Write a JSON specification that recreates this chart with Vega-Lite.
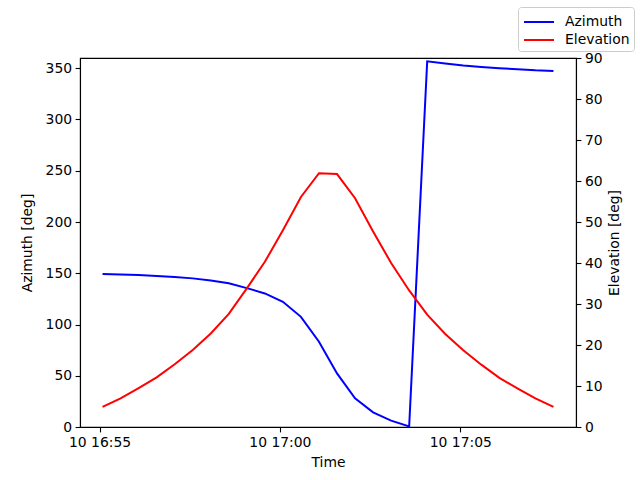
{
  "$schema": "https://vega.github.io/schema/vega-lite/v6.json",
  "autosize": "none",
  "width": 496,
  "height": 369,
  "padding": {"left": 80, "top": 58, "right": 64, "bottom": 53},
  "background": "white",
  "data": {
    "values": [
      {"time": "2024-01-10T16:55:05", "az": 149.2, "el": 4.9},
      {"time": "2024-01-10T16:55:35", "az": 148.8, "el": 7.0},
      {"time": "2024-01-10T16:56:05", "az": 148.2, "el": 9.5},
      {"time": "2024-01-10T16:56:35", "az": 147.4, "el": 12.1},
      {"time": "2024-01-10T16:57:05", "az": 146.4, "el": 15.3},
      {"time": "2024-01-10T16:57:35", "az": 145.0, "el": 18.8},
      {"time": "2024-01-10T16:58:05", "az": 143.0, "el": 22.8},
      {"time": "2024-01-10T16:58:35", "az": 140.2, "el": 27.6},
      {"time": "2024-01-10T16:59:05", "az": 135.5, "el": 33.8},
      {"time": "2024-01-10T16:59:35", "az": 130.3, "el": 40.3},
      {"time": "2024-01-10T17:00:05", "az": 122.2, "el": 48.0},
      {"time": "2024-01-10T17:00:35", "az": 107.5, "el": 56.1},
      {"time": "2024-01-10T17:01:05", "az": 83.2, "el": 61.9},
      {"time": "2024-01-10T17:01:35", "az": 52.3, "el": 61.7},
      {"time": "2024-01-10T17:02:05", "az": 28.0, "el": 55.8},
      {"time": "2024-01-10T17:02:35", "az": 14.3, "el": 47.7},
      {"time": "2024-01-10T17:03:05", "az": 6.2, "el": 40.0},
      {"time": "2024-01-10T17:03:35", "az": 0.6, "el": 33.3},
      {"time": "2024-01-10T17:04:05", "az": 356.8, "el": 27.4},
      {"time": "2024-01-10T17:04:35", "az": 354.6, "el": 22.7},
      {"time": "2024-01-10T17:05:05", "az": 352.6, "el": 18.7},
      {"time": "2024-01-10T17:05:35", "az": 351.3, "el": 15.2},
      {"time": "2024-01-10T17:06:05", "az": 350.0, "el": 12.0},
      {"time": "2024-01-10T17:06:35", "az": 349.0, "el": 9.4},
      {"time": "2024-01-10T17:07:05", "az": 348.0, "el": 7.0},
      {"time": "2024-01-10T17:07:35", "az": 347.4, "el": 4.9}
    ]
  },
  "encoding": {
    "x": {
      "field": "time",
      "type": "temporal",
      "scale": {
        "domain": [
          {"year": 2024, "month": 1, "date": 10, "hours": 16, "minutes": 54, "seconds": 27, "milliseconds": 500},
          {"year": 2024, "month": 1, "date": 10, "hours": 17, "minutes": 8, "seconds": 12, "milliseconds": 500}
        ]
      },
      "axis": {
        "title": "Time",
        "format": "%d %H:%M",
        "values": [
          {"year": 2024, "month": 1, "date": 10, "hours": 16, "minutes": 55},
          {"year": 2024, "month": 1, "date": 10, "hours": 17, "minutes": 0},
          {"year": 2024, "month": 1, "date": 10, "hours": 17, "minutes": 5}
        ],
        "labelFlush": false,
        "titlePadding": 6
      }
    }
  },
  "layer": [
    {
      "mark": {"type": "line", "strokeWidth": 2},
      "encoding": {
        "y": {
          "field": "az",
          "type": "quantitative",
          "scale": {"domain": [0, 360], "nice": false},
          "axis": {"title": "Azimuth [deg]", "values": [0, 50, 100, 150, 200, 250, 300, 350], "titlePadding": 11}
        },
        "color": {"datum": "Azimuth"}
      }
    },
    {
      "mark": {"type": "line", "strokeWidth": 2},
      "encoding": {
        "y": {
          "field": "el",
          "type": "quantitative",
          "scale": {"domain": [0, 90], "nice": false},
          "axis": {"title": "Elevation [deg]", "orient": "right", "values": [0, 10, 20, 30, 40, 50, 60, 70, 80, 90], "titleAngle": 270, "titlePadding": 19}
        },
        "color": {"datum": "Elevation"}
      }
    }
  ],
  "resolve": {"scale": {"y": "independent"}},
  "config": {
    "font": "DejaVu Sans",
    "view": {"stroke": "black", "strokeWidth": 1.1},
    "range": {"category": ["#0000ff", "#ff0000"]},
    "axis": {
      "grid": false,
      "domainColor": "black",
      "domainWidth": 1.1,
      "tickColor": "black",
      "tickSize": 4.9,
      "tickWidth": 1.1,
      "labelPadding": 3.5,
      "labelFontSize": 13.9,
      "labelColor": "black",
      "titleFontSize": 13.9,
      "titleFontWeight": "normal",
      "titleColor": "black"
    },
    "legend": {
      "orient": "none",
      "legendX": 438,
      "legendY": -51,
      "title": null,
      "symbolType": "M-1.5,0H1.5",
      "symbolStrokeWidth": 2,
      "symbolSize": 400,
      "symbolOffset": 6,
      "labelFontSize": 13.9,
      "labelColor": "black",
      "labelOffset": 15,
      "rowPadding": 0,
      "padding": 4,
      "strokeColor": "#cccccc",
      "fillColor": "white",
      "cornerRadius": 3
    }
  }
}
